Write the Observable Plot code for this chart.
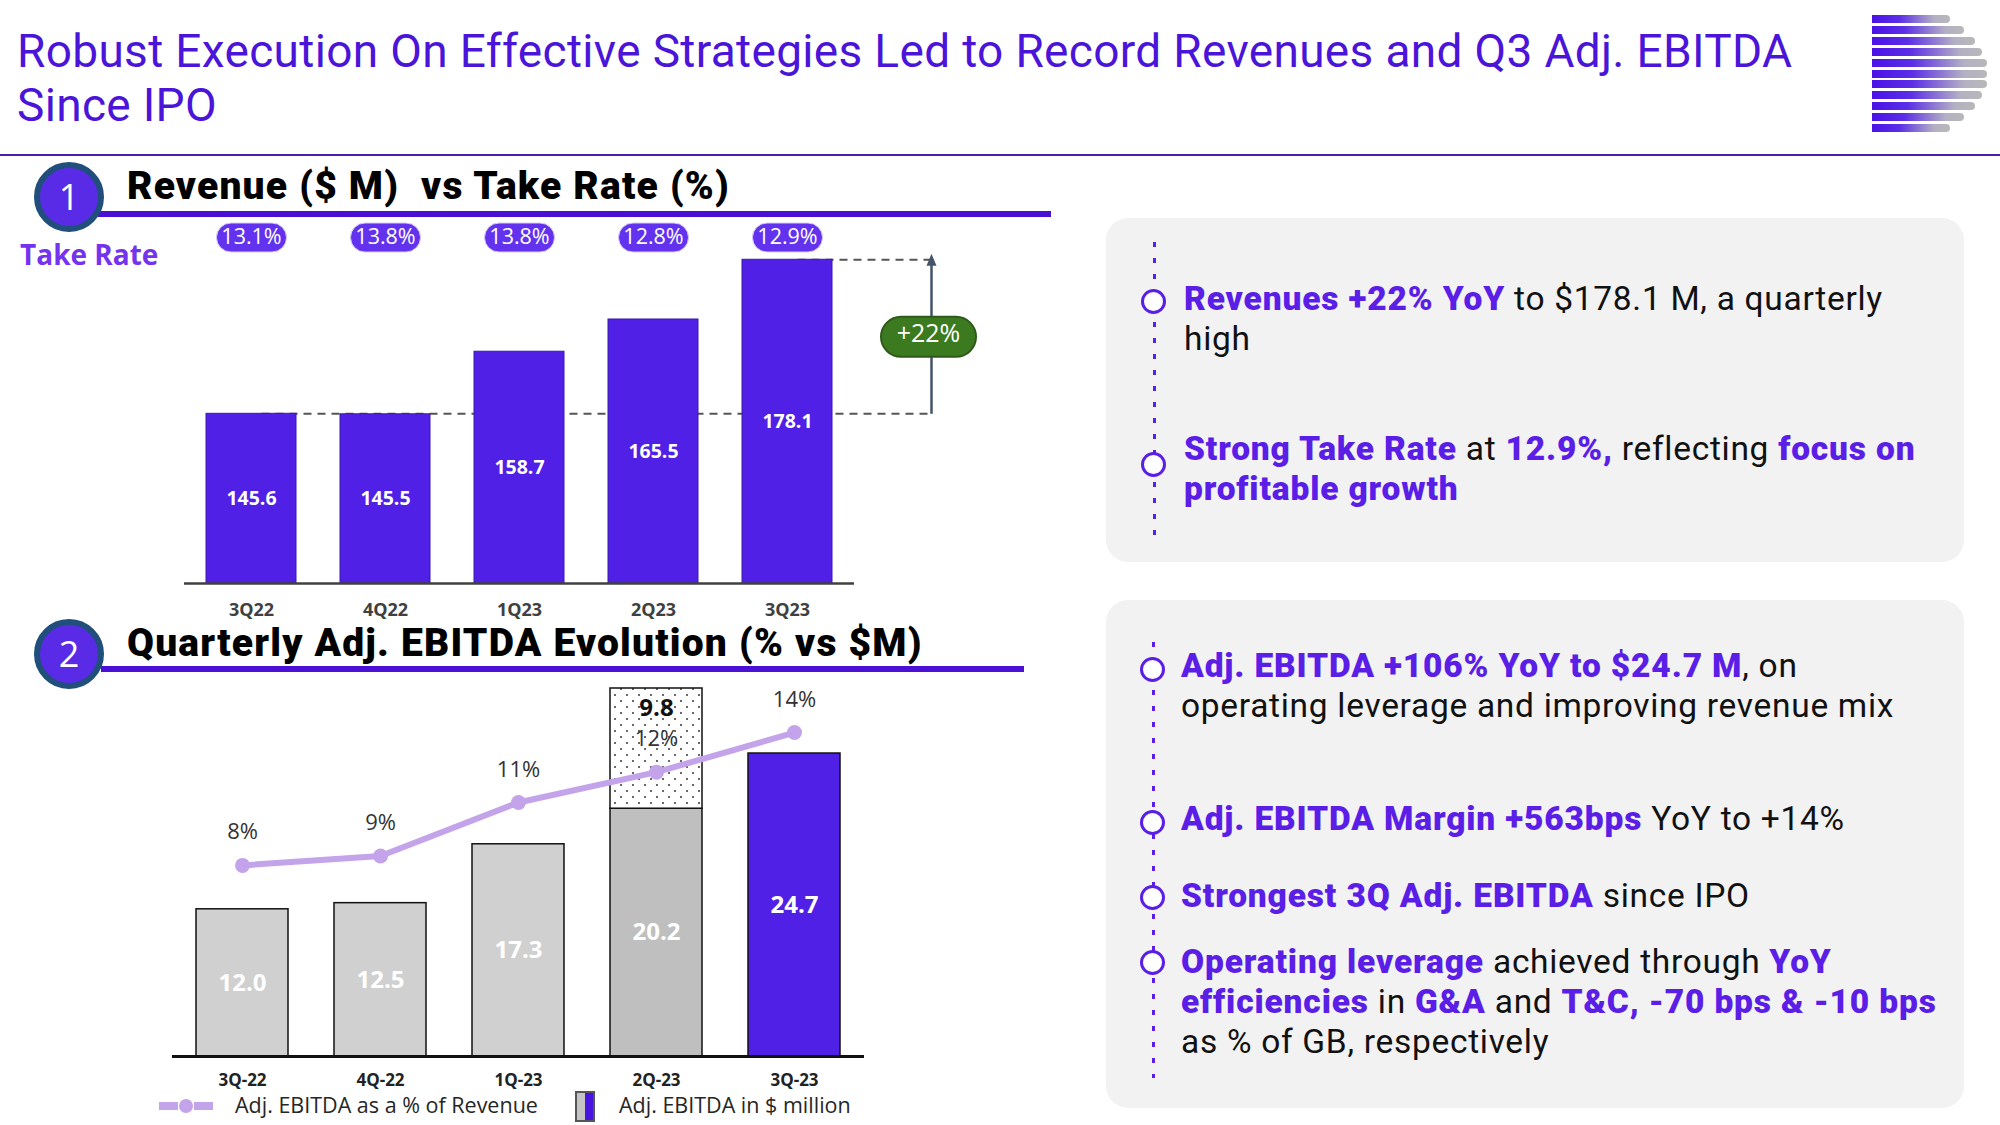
<!DOCTYPE html>
<html><head><meta charset="utf-8">
<script src="https://cdn.jsdelivr.net/npm/d3@7"></script>
<script src="https://cdn.jsdelivr.net/npm/@observablehq/plot@0.6"></script>
<style>
html,body{margin:0;padding:0;background:#fff;}
#page{position:relative;width:2000px;height:1125px;overflow:hidden;font-family:Roboto,"Open Sans",sans-serif;}
.abs{position:absolute;}
.title{left:17px;top:25px;font-size:46px;line-height:53.5px;letter-spacing:0.33px;color:#4b14d9;white-space:nowrap;}
.rule{left:0;top:154px;width:2000px;height:2px;background:#4a1fb0;}
.badge{width:58px;height:58px;border:6px solid #1f4f7a;border-radius:50%;background:#5a2be6;color:#fff;font-size:36px;line-height:58px;text-align:center;font-family:"Open Sans",sans-serif;}
.stitle{font-size:39px;font-weight:900;color:#000;white-space:nowrap;line-height:34px;letter-spacing:1.2px;}
.uline{height:6px;background:#4a10d6;}
.take{left:20px;top:235px;font-size:28px;font-weight:700;color:#7433ee;font-family:"Open Sans",sans-serif;}
.panel{background:#f2f2f2;border-radius:22px;}
.dots{width:3px;background:repeating-linear-gradient(to bottom,#5a1ee6 0 5px,transparent 5px 16px);}
.ring{width:19px;height:19px;border:3.5px solid #5a1ee6;border-radius:50%;background:#fff;}
.bt{font-size:33.5px;line-height:40px;color:#111;white-space:nowrap;letter-spacing:0.7px;}
.bt b{color:#5a1ee6;font-weight:900;letter-spacing:0.85px;}
.leg{font-family:"Open Sans",sans-serif;font-size:21.5px;color:#262626;white-space:nowrap;}
</style></head><body><div id="page">
<div class="abs title">Robust Execution On Effective Strategies Led to Record Revenues and Q3 Adj. EBITDA<br>Since IPO</div>
<div class="abs rule"></div>
<div id="logo"></div>

<div class="abs uline" style="left:98px;top:211px;width:953px;"></div>
<div class="abs badge" style="left:34px;top:162px;">1</div>
<div class="abs stitle" style="left:127px;top:169px;">Revenue ($ M)&nbsp; vs Take Rate (%)</div>
<div class="abs take">Take Rate</div>

<div class="abs uline" style="left:101px;top:666px;width:923px;"></div>
<div class="abs badge" style="left:34px;top:619px;">2</div>
<div class="abs stitle" style="left:127px;top:626px;">Quarterly Adj. EBITDA Evolution (% vs $M)</div>

<div id="chart1" class="abs" style="left:0;top:150px;"></div>
<div id="chart2" class="abs" style="left:0;top:680px;"></div>
<div id="chart3" class="abs" style="left:0;top:680px;"></div>

<div class="abs" style="left:159px;top:1102px;width:19px;height:8px;background:#c3a3ea;"></div>
<div class="abs" style="left:179px;top:1099px;width:14px;height:14px;border-radius:50%;background:#c3a3ea;"></div>
<div class="abs" style="left:194px;top:1102px;width:19px;height:8px;background:#c3a3ea;"></div>
<div class="abs leg" style="left:235px;top:1090px;">Adj. EBITDA as a % of Revenue</div>
<div class="abs" style="left:575px;top:1091px;width:16px;height:27px;border:2px solid #555;background:linear-gradient(to right,#c4c4c4 0 50%,#4a14e0 50% 100%);"></div>
<div class="abs leg" style="left:619px;top:1090px;">Adj. EBITDA in $ million</div>

<div class="abs panel" style="left:1106px;top:218px;width:858px;height:344px;"></div>
<div class="abs dots" style="left:1153px;top:242px;height:301px;"></div>
<div class="abs ring" style="left:1141px;top:289px;"></div>
<div class="abs ring" style="left:1141px;top:452px;"></div>
<div class="abs bt" style="left:1184px;top:279px;"><b>Revenues +22% YoY</b> to $178.1 M, a quarterly<br>high</div>
<div class="abs bt" style="left:1184px;top:429px;"><b>Strong Take Rate</b> at <b>12.9%,</b> reflecting <b>focus on</b><br><b>profitable growth</b></div>

<div class="abs panel" style="left:1106px;top:600px;width:858px;height:508px;"></div>
<div class="abs dots" style="left:1152px;top:642px;height:436px;"></div>
<div class="abs ring" style="left:1140px;top:657px;"></div>
<div class="abs ring" style="left:1140px;top:810px;"></div>
<div class="abs ring" style="left:1140px;top:885px;"></div>
<div class="abs ring" style="left:1140px;top:950px;"></div>
<div class="abs bt" style="left:1181px;top:646px;"><b>Adj. EBITDA +106% YoY to $24.7 M</b>, on<br>operating leverage and improving revenue mix</div>
<div class="abs bt" style="left:1181px;top:799px;"><b>Adj. EBITDA Margin +563bps</b> YoY to +14%</div>
<div class="abs bt" style="left:1181px;top:876px;"><b>Strongest 3Q Adj. EBITDA</b> since IPO</div>
<div class="abs bt" style="left:1181px;top:942px;"><b>Operating leverage</b> achieved through <b>YoY</b><br><b>efficiencies</b> in <b>G&amp;A</b> and <b>T&amp;C, -70 bps &amp; -10 bps</b><br>as % of GB, respectively</div>
</div>
<script>
// ---- data ----
const quarters = ["3Q22", "4Q22", "1Q23", "2Q23", "3Q23"];
const revenue = [145.6, 145.5, 158.7, 165.5, 178.1];
const takeRate = [13.1, 13.8, 13.8, 12.8, 12.9];
const growthLabel = "+22%";

const ebitdaQuarters = ["3Q-22", "4Q-22", "1Q-23", "2Q-23", "3Q-23"];
const ebitda = [12.0, 12.5, 17.3, 20.2, 24.7];
const ebitdaExtra = [0, 0, 0, 9.8, 0];
const ebitdaMargin = [8.2, 8.6, 10.9, 12.2, 13.9];

// ---- logo (decoration) ----
(function(){
  const logo = document.getElementById("logo");
  const w = [78, 92, 103, 110, 115, 115, 115, 110, 103, 92, 78];
  w.forEach((ww, k) => {
    const d = document.createElement("div");
    d.className = "abs";
    d.style.cssText = `left:1872px;top:${15 + k*10.9}px;width:${ww}px;height:8px;border-radius:0 4px 4px 0;background:linear-gradient(to right,#4a12e6 0%,#5b2ee6 35%,#b4b0c4 80%,#b8b8b8 100%);`;
    logo.appendChild(d);
  });
})();

function pillSymbol(w, h) {
  return {draw(ctx) {
    const r = h / 2, x0 = -w / 2, x1 = w / 2;
    ctx.moveTo(x0 + r, -r);
    ctx.lineTo(x1 - r, -r);
    ctx.arc(x1 - r, 0, r, -Math.PI / 2, Math.PI / 2);
    ctx.lineTo(x0 + r, r);
    ctx.arc(x0 + r, 0, r, Math.PI / 2, 3 * Math.PI / 2);
    ctx.closePath();
  }};
}
function triMarker(color) {
  const m = d3.create("svg:marker")
    .attr("viewBox", "-6 -6 12 12").attr("markerWidth", 12).attr("markerHeight", 12)
    .attr("markerUnits", "userSpaceOnUse").attr("orient", "auto").attr("refX", 0)
    .attr("fill", color).attr("stroke", "none");
  m.append("path").attr("d", "M-6,-5L6,0L-6,5Z");
  return m.node();
}

// ---- chart 1: revenue ----
const revRows = quarters.map((q, i) => ({q, v: revenue[i], tr: takeRate[i]}));
const growthCol = " ";
const yBase = 109.8;
const first = revRows[0], last = revRows[revRows.length - 1];
function buildRev(marker) {
  return Plot.plot({
    width: 1000, height: 490,
    marginLeft: 183, marginRight: 11, marginTop: 87, marginBottom: 57,
    x: {domain: [...quarters, growthCol], paddingInner: 0.33, paddingOuter: 0.168, axis: null},
    y: {domain: [yBase, 182.8], axis: null},
    style: {fontFamily: "'Open Sans', sans-serif", background: "transparent", overflow: "visible"},
    marks: [
      Plot.link([{a: first.q, b: growthCol, y: first.v}, {a: last.q, b: growthCol, y: last.v}],
        {x1: "a", x2: "b", y1: "y", y2: "y", dx: 10, stroke: "#555", strokeWidth: 2, strokeDasharray: "8,6"}),
      Plot.link([{x: growthCol, y1: first.v, y2: last.v}],
        {x1: "x", x2: "x", y1: "y1", y2: "y2", dx: 10, stroke: "#44546a", strokeWidth: 2.5, markerEnd: marker}),
      Plot.barY(revRows, {x: "q", y1: yBase, y2: "v", fill: "#5020e6", stroke: "#3a1aa8", strokeWidth: 1}),
      Plot.ruleY([{y: yBase, a: quarters[0], b: quarters[quarters.length - 1]}],
        {y: "y", x1: "a", x2: "b", insetLeft: -22, insetRight: -22, stroke: "#404040", strokeWidth: 2.5}),
      Plot.axisX(quarters, {tickSize: 0, tickPadding: 20, fontSize: 18, fontWeight: "bold", fill: "#404040", label: null}),
      Plot.text(revRows, {x: "q", y: d => (yBase + d.v) / 2, text: d => d.v.toFixed(1), fill: "white", fontWeight: "bold", fontSize: 19.5}),
      Plot.dot(revRows, {x: "q", frameAnchor: "top", symbol: pillSymbol(70, 29), r: 10, fill: "#6232ee", stroke: "#d8ccfb", strokeWidth: 1}),
      Plot.text(revRows, {x: "q", frameAnchor: "top", lineAnchor: "middle", text: d => d.tr.toFixed(1) + "%", fill: "white", fontSize: 21.5}),
      Plot.dot([{x: growthCol, y: (first.v + last.v) / 2}], {x: "x", y: "y", dx: 7, symbol: pillSymbol(95, 40), r: 10, fill: "#3b7a1f", stroke: "#2f5a1c", strokeWidth: 2}),
      Plot.text([{x: growthCol, y: (first.v + last.v) / 2}], {x: "x", y: "y", dx: 7, dy: -3, text: () => growthLabel, fill: "white", fontSize: 25})
    ]
  });
}
let p1;
try { p1 = buildRev(triMarker); } catch (e) { p1 = buildRev("arrow"); }
document.getElementById("chart1").appendChild(p1);

// ---- chart 2: EBITDA bars ----
const ebRows = [];
ebitdaQuarters.forEach((q, i) => {
  ebRows.push({q, part: "base", i, y1: 0, y2: ebitda[i], v: ebitda[i]});
  if (ebitdaExtra[i]) ebRows.push({q, part: "extra", i, y1: ebitda[i], y2: ebitda[i] + ebitdaExtra[i], v: ebitdaExtra[i]});
});
const lastI = ebitdaQuarters.length - 1;
const barFill = d => d.part === "extra" ? "url(#ebDots)" : d.i === lastI ? "#5020e6" : ebitdaExtra[d.i] ? "#bfbfbf" : "#d0d0d0";
const p2 = Plot.plot({
  width: 1000, height: 425,
  marginLeft: 172, marginRight: 136, marginTop: 8, marginBottom: 49,
  x: {domain: ebitdaQuarters, paddingInner: 0.33, paddingOuter: 0.163, axis: null},
  y: {domain: [0, 30], axis: null},
  style: {fontFamily: "'Open Sans', sans-serif", background: "transparent", overflow: "visible"},
  marks: [
    Plot.rectY(ebRows, {x: "q", y1: "y1", y2: "y2", fill: barFill, stroke: "#111", strokeWidth: 1.5}),
    Plot.ruleY([0], {stroke: "#111", strokeWidth: 3}),
    Plot.axisX({tickSize: 0, tickPadding: 17, fontSize: 17, fontWeight: "bold", fill: "#222", label: null}),
    Plot.text(ebRows.filter(d => d.part === "base"), {x: "q", y: d => d.y2 / 2, text: d => d.v.toFixed(1), fill: "white", fontWeight: "bold", fontSize: 24}),
    Plot.text(ebRows.filter(d => d.part === "extra"), {x: "q", y: "y2", dy: 20, text: d => d.v.toFixed(1), fill: "#111", fontWeight: "bold", fontSize: 24})
  ]
});
d3.select(p2).insert("defs", ":first-child").html(
  `<pattern id="ebDots" width="12" height="12" patternUnits="userSpaceOnUse">
     <rect width="12" height="12" fill="#fff"/>
     <circle cx="3" cy="3" r="0.9" fill="#222"/><circle cx="9" cy="9" r="0.9" fill="#222"/>
   </pattern>`);
document.getElementById("chart2").appendChild(p2);

// ---- chart 3: EBITDA margin line (overlay, own % scale) ----
const mRows = ebitdaQuarters.map((q, i) => ({q, m: ebitdaMargin[i]}));
const p3 = Plot.plot({
  width: 1000, height: 425,
  marginLeft: 172, marginRight: 136, marginTop: 8, marginBottom: 49,
  x: {domain: ebitdaQuarters, paddingInner: 0.33, paddingOuter: 0.163, axis: null},
  y: {domain: [0, 15.79], axis: null},
  style: {fontFamily: "'Open Sans', sans-serif", background: "transparent", overflow: "visible"},
  marks: [
    Plot.line(mRows, {x: "q", y: "m", stroke: "#c3a3ea", strokeWidth: 6}),
    Plot.dot(mRows, {x: "q", y: "m", r: 7.5, fill: "#c3a3ea"}),
    Plot.text(mRows, {x: "q", y: "m", dy: -33, text: d => Math.round(d.m) + "%", fontSize: 22, fill: "#333"})
  ]
});
document.getElementById("chart3").appendChild(p3);
</script>
</body></html>
